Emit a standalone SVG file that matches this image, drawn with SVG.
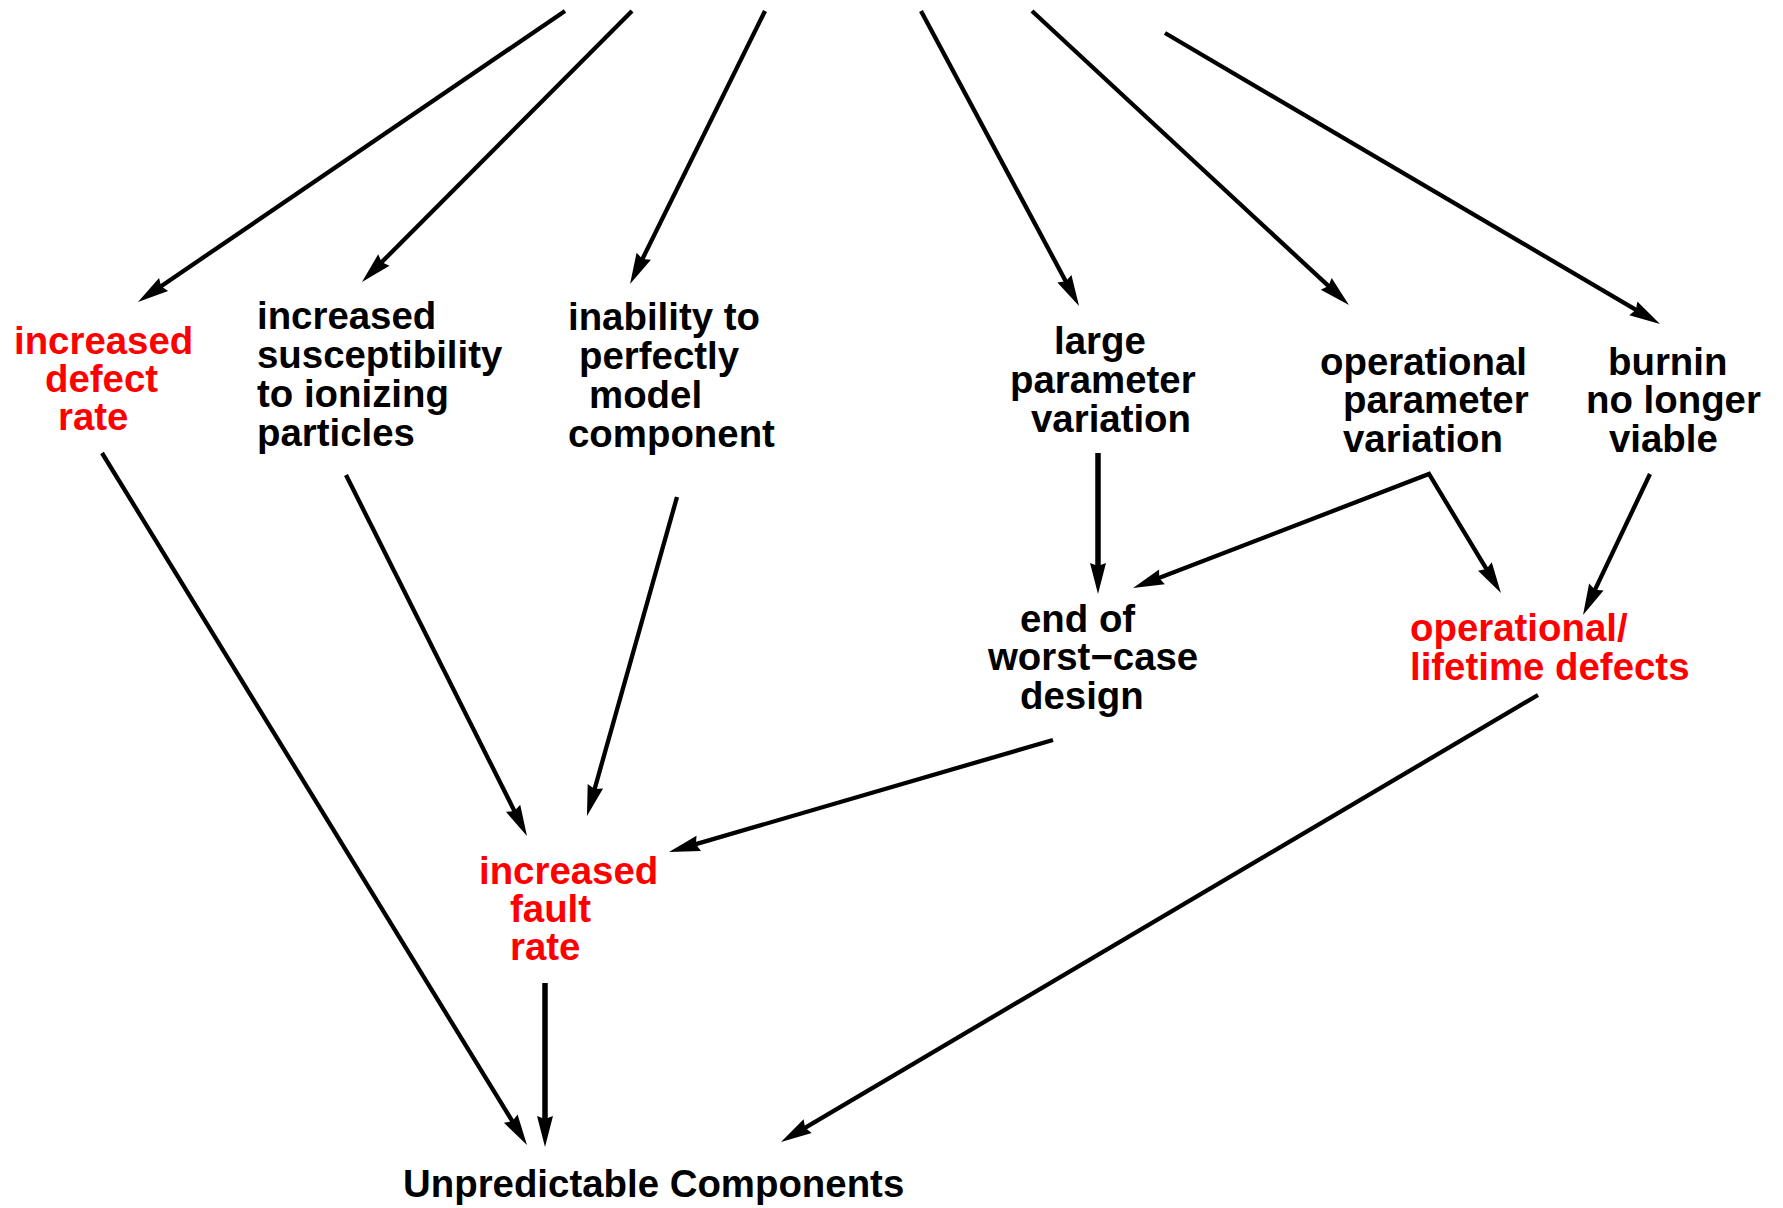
<svg xmlns="http://www.w3.org/2000/svg" width="1783" height="1208" viewBox="0 0 1783 1208">
<style>
text { font-family: "Liberation Sans", Arial, Helvetica, sans-serif; font-weight: bold; font-size: 38.4px; fill: #000; }
.red text { fill: #ff0000; }
.c { fill: none; stroke: #000; stroke-width: 4.3; stroke-linejoin: miter; marker-end: url(#ah); }
.v { stroke-width: 5.5; }
</style>
<defs>
<marker id="ah" markerUnits="userSpaceOnUse" markerWidth="34" markerHeight="18" refX="10" refY="8" orient="auto-start-reverse" overflow="visible">
<path d="M-1,0 L30,8 L-1,16 L2,8 z" fill="#000"/>
</marker>
</defs>
<rect width="1783" height="1208" fill="#fff"/>
<g id="connectors">
<path class="c" d="M565,11 L154.5,290.7"/>
<path class="c" d="M632,11 L376.1,267.8"/>
<path class="c" d="M765,11 L638.9,266.1"/>
<path class="c" d="M921,11 L1069.6,288.4"/>
<path class="c" d="M1032,11 L1334.3,291.4"/>
<path class="c" d="M1165,33 L1642.8,313.9"/>
<path class="c" d="M102,453 L516.5,1128"/>
<path class="c" d="M346,475 L518,818.1"/>
<path class="c" d="M677,497 L592.4,796.8"/>
<path class="c v" d="M1098,453 L1098,574"/>
<path class="c" d="M1151.7,580.8 L1429,474 L1490.6,575.9" marker-start="url(#ah)"/>
<path class="c" d="M1650,474 L1591.6,596.9"/>
<path class="c" d="M1053,740 L688.2,846.4"/>
<path class="c v" d="M545,983 L545,1127"/>
<path class="c" d="M1538,695 L798.2,1131.8"/>
</g>
<g id="increased-defect-rate" class="red">
<text x="14" y="354">increased</text>
<text x="45" y="392">defect</text>
<text x="58" y="430">rate</text>
</g>
<g id="increased-susceptibility">
<text x="257" y="329">increased</text>
<text x="257" y="368">susceptibility</text>
<text x="257" y="407">to ionizing</text>
<text x="257" y="446">particles</text>
</g>
<g id="inability-to-model">
<text x="568" y="330">inability to</text>
<text x="579" y="369">perfectly</text>
<text x="589" y="408">model</text>
<text x="568" y="447">component</text>
</g>
<g id="large-parameter-variation">
<text x="1054" y="354">large</text>
<text x="1010" y="393">parameter</text>
<text x="1031" y="432">variation</text>
</g>
<g id="operational-parameter-variation">
<text x="1320" y="375">operational</text>
<text x="1343" y="413">parameter</text>
<text x="1343" y="452">variation</text>
</g>
<g id="burnin-no-longer-viable">
<text x="1608" y="375">burnin</text>
<text x="1586" y="413">no longer</text>
<text x="1609" y="452">viable</text>
</g>
<g id="end-of-worst-case-design">
<text x="1020" y="632">end of</text>
<text x="988" y="670">worst−case</text>
<text x="1020" y="709">design</text>
</g>
<g id="operational-lifetime-defects" class="red">
<text x="1410" y="641">operational/</text>
<text x="1410" y="680">lifetime defects</text>
</g>
<g id="increased-fault-rate" class="red">
<text x="479" y="884">increased</text>
<text x="510" y="922">fault</text>
<text x="510" y="960">rate</text>
</g>
<g id="unpredictable-components">
<text x="403" y="1197">Unpredictable Components</text>
</g>
</svg>
